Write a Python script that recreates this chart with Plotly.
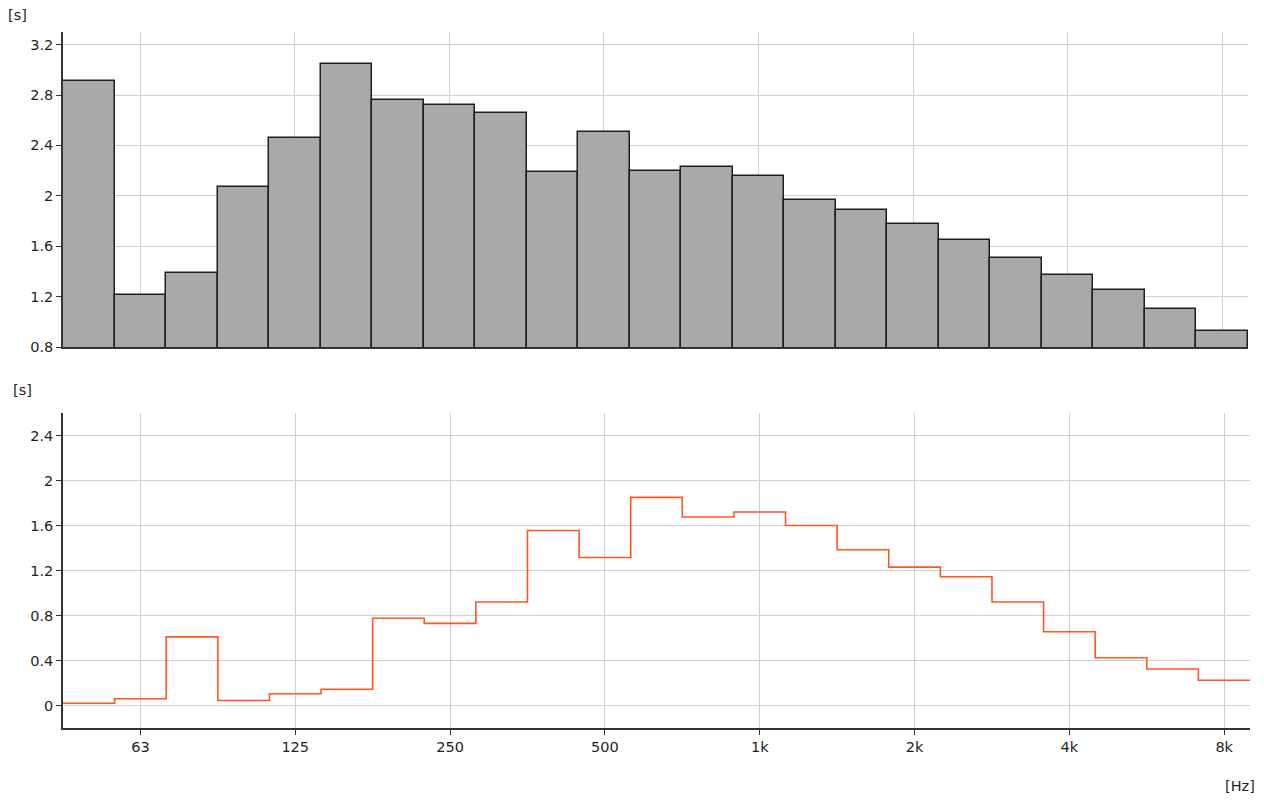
import plotly.graph_objects as go

# Third-octave bands (50 Hz .. 8 kHz)
bands = ["50", "63", "80", "100", "125", "160", "200", "250", "315", "400", "500",
         "630", "800", "1k", "1.25k", "1.6k", "2k", "2.5k", "3.15k", "4k", "5k", "6.3k", "8k"]

# Top panel: reverberation time [s]
rt_values = [2.91, 1.21, 1.39, 2.07, 2.46, 3.05, 2.76, 2.72, 2.66, 2.19, 2.51,
             2.20, 2.23, 2.16, 1.97, 1.89, 1.78, 1.65, 1.51, 1.37, 1.25, 1.10, 0.93]

# Bottom panel: step line [s]
diff_values = [0.02, 0.06, 0.61, 0.045, 0.105, 0.145, 0.775, 0.73, 0.92, 1.555, 1.315,
               1.85, 1.675, 1.72, 1.60, 1.385, 1.23, 1.145, 0.92, 0.655, 0.425, 0.325, 0.225]

# Axis tick labels
x_tick_bands = ["63", "125", "250", "500", "1k", "2k", "4k", "8k"]
top_y_ticks = [0.8, 1.2, 1.6, 2.0, 2.4, 2.8, 3.2]
top_y_labels = ["0.8", "1.2", "1.6", "2", "2.4", "2.8", "3.2"]
bot_y_ticks = [0, 0.4, 0.8, 1.2, 1.6, 2.0, 2.4]
bot_y_labels = ["0", "0.4", "0.8", "1.2", "1.6", "2", "2.4"]

idx = list(range(len(bands)))
x_tickvals = [bands.index(b) for b in x_tick_bands]
step_x = [i - 0.5 for i in idx] + [idx[-1] + 0.5]
step_y = diff_values + [diff_values[-1]]

FONT = "DejaVu Sans"
TXT = "#1f1f1f"
GRID = "#d0d0d0"
AX = "#333333"
FS = 14.5

fig = go.Figure()
fig.add_trace(go.Bar(x=idx, y=rt_values, width=1.0,
                     marker=dict(color="#a9a9a9", line=dict(color="#1e1e1e", width=1.5)),
                     xaxis="x", yaxis="y", showlegend=False, hoverinfo="x+y"))
fig.add_trace(go.Scatter(x=step_x, y=step_y, mode="lines", line_shape="hv",
                         line=dict(color="#ff5722", width=1.6),
                         xaxis="x2", yaxis="y2", showlegend=False))

W, H = 1264, 801
ml, mr, mt, mb = 63, 14, 32, 73
ph = H - mt - mb
pw = W - ml - mr
top_bottom_px = 347
bot_top_px = 413

common_x = dict(range=[-0.5, len(bands) - 0.5], tickvals=x_tickvals, ticktext=x_tick_bands,
                showgrid=True, gridcolor=GRID, gridwidth=1, zeroline=False,
                showline=True, linecolor=AX, linewidth=1.5)

fig.update_layout(
    width=W, height=H,
    margin=dict(l=ml, r=mr, t=mt, b=mb),
    paper_bgcolor="white", plot_bgcolor="white",
    font=dict(family=FONT, size=FS, color=TXT),
    bargap=0,
    xaxis=dict(**common_x, domain=[0, (1248 - ml) / pw], anchor="y",
               showticklabels=False, ticks=""),
    yaxis=dict(domain=[(H - mb - top_bottom_px) / ph, 1], range=[0.8, 3.3],
               tickvals=top_y_ticks, ticktext=top_y_labels,
               showgrid=True, gridcolor=GRID, zeroline=False,
               showline=True, linecolor=AX, linewidth=1.5,
               ticks="outside", ticklen=5, tickcolor=AX, anchor="x"),
    xaxis2=dict(**common_x, domain=[0, 1], anchor="y2",
                ticks="outside", ticklen=5, tickcolor=AX),
    yaxis2=dict(domain=[0, (H - mb - bot_top_px) / ph], range=[-0.2, 2.6],
                tickvals=bot_y_ticks, ticktext=bot_y_labels,
                showgrid=True, gridcolor=GRID, zeroline=False,
                showline=True, linecolor=AX, linewidth=1.5,
                ticks="outside", ticklen=5, tickcolor=AX, anchor="x2"),
    annotations=[
        dict(text="[s]", xref="paper", yref="paper", x=-ml / pw + 17 / pw,
             y=(H - mb - 15) / ph, xanchor="center", yanchor="middle", showarrow=False,
             font=dict(size=FS)),
        dict(text="[s]", xref="paper", yref="paper", x=-ml / pw + 22 / pw,
             y=(H - mb - 390) / ph, xanchor="center", yanchor="middle", showarrow=False,
             font=dict(size=FS)),
        dict(text="[Hz]", xref="paper", yref="paper", x=1 + (1240 - (W - mr)) / pw,
             y=-(786 - (H - mb)) / ph, xanchor="center", yanchor="middle", showarrow=False,
             font=dict(size=FS)),
    ],
)

fig.write_html("out.html")
